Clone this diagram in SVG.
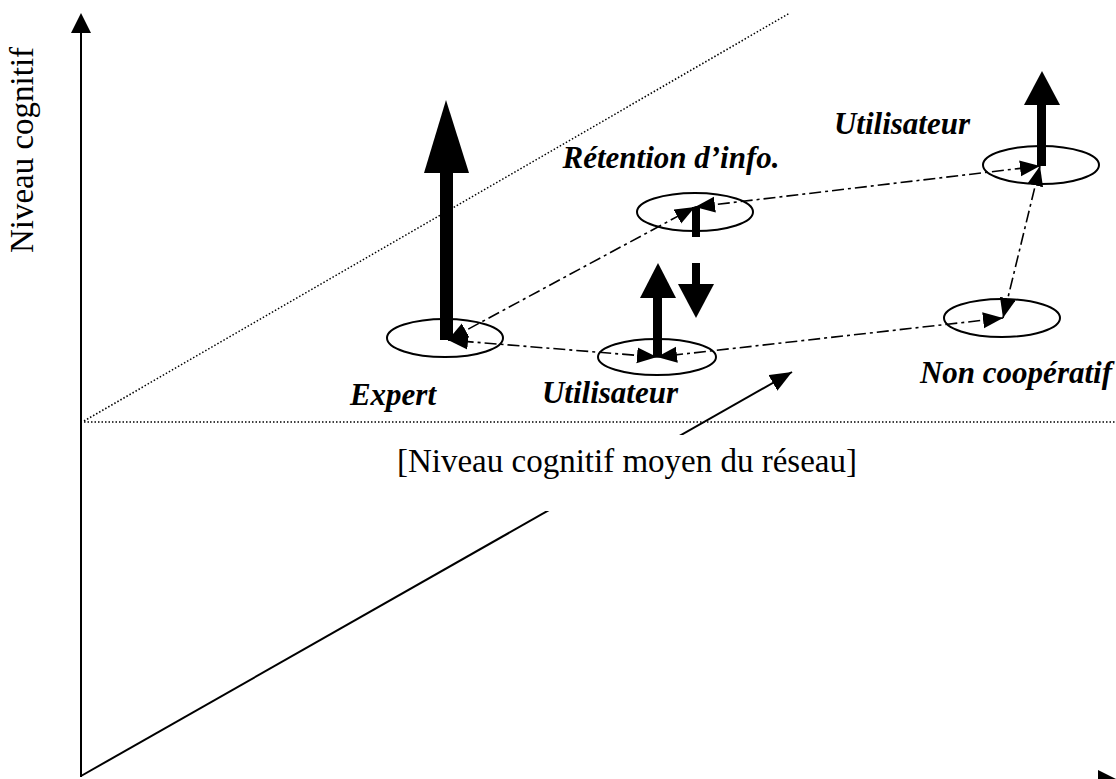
<svg xmlns="http://www.w3.org/2000/svg" width="1116" height="779" viewBox="0 0 1116 779">
<style>
.axis{stroke:#000;stroke-width:2;fill:none}
.dot{stroke:#000;stroke-width:1.5;stroke-dasharray:1.5,2;fill:none}
.dd{stroke:#000;stroke-width:1.6;stroke-dasharray:12,4,3,4;fill:none;marker-start:url(#ah);marker-end:url(#ah)}
.ell{fill:none;stroke:#000;stroke-width:2}
.big{fill:#000}
.lab{font-family:"Liberation Serif","Times New Roman",serif;font-size:31px;font-weight:bold;font-style:italic;fill:#000}
.txt{font-family:"Liberation Serif","Times New Roman",serif;font-size:33px;fill:#000}
</style>
<defs>
<marker id="ah" markerUnits="userSpaceOnUse" markerWidth="22" markerHeight="18" refX="20" refY="8" orient="auto-start-reverse"><path d="M0,0 L20,8 L0,16 z" fill="#000"/></marker>
<marker id="ax" markerUnits="userSpaceOnUse" markerWidth="24" markerHeight="20" refX="22" refY="9" orient="auto"><path d="M0,0 L22,9 L0,18 z" fill="#000"/></marker>
</defs>
<rect width="1116" height="779" fill="#fff"/>
<g id="axes">
<line class="axis" x1="81" y1="777" x2="81" y2="30"/>
<polygon points="71,33 81,13 91,33" fill="#000"/>
<line class="axis" x1="81" y1="780" x2="1100" y2="780"/>
<polygon points="1098,770 1118,780 1098,790" fill="#000"/>
<line class="axis" x1="81" y1="776" x2="792" y2="372" marker-end="url(#ax)"/>
<line class="dot" x1="84" y1="422" x2="1116" y2="422"/>
<line class="dot" x1="84" y1="421" x2="790" y2="13"/>
<text class="txt" transform="translate(33,150) rotate(-90)" text-anchor="middle">Niveau cognitif</text>
</g>
<g id="mean-label">
<rect x="360" y="435" width="505" height="76" fill="#fff"/>
<text class="txt" x="627" y="472" text-anchor="middle">[Niveau cognitif moyen du réseau]</text>
</g>
<g id="connectors">
<line class="dd" x1="657" y1="357" x2="448" y2="340"/>
<line class="dd" x1="448" y1="340" x2="695" y2="207"/>
<line class="dd" x1="695" y1="207" x2="1040" y2="166"/>
<line class="dd" x1="1040" y1="166" x2="1003" y2="318"/>
<line class="dd" x1="1003" y1="318" x2="657" y2="357"/>
</g>
<g id="expert">
<ellipse class="ell" cx="445" cy="338" rx="58" ry="19"/>
<rect class="big" x="440" y="170" width="13" height="170"/>
<polygon class="big" points="424,173 446,100 469,173"/>
<text class="lab" x="393" y="405" text-anchor="middle">Expert</text>
</g>
<g id="utilisateur-bas">
<ellipse class="ell" cx="657" cy="357" rx="59" ry="18"/>
<rect class="big" x="653" y="296" width="9" height="61"/>
<polygon class="big" points="640,298 658,263 676,298"/>
<text class="lab" x="610" y="403" text-anchor="middle">Utilisateur</text>
</g>
<g id="retention">
<ellipse class="ell" cx="695" cy="212" rx="58" ry="19"/>
<rect class="big" x="692" y="207" width="8" height="30"/>
<rect class="big" x="692" y="263" width="8" height="23"/>
<polygon class="big" points="678,284 696,318 714,284"/>
<text class="lab" x="671" y="168" text-anchor="middle">Rétention d’info.</text>
</g>
<g id="utilisateur-haut">
<ellipse class="ell" cx="1041" cy="165" rx="58" ry="19"/>
<rect class="big" x="1037" y="103" width="9" height="63"/>
<polygon class="big" points="1024,105 1042,71 1060,105"/>
<text class="lab" x="902" y="134" text-anchor="middle">Utilisateur</text>
</g>
<g id="non-cooperatif">
<ellipse class="ell" cx="1002" cy="318" rx="58" ry="19"/>
<text class="lab" x="1112" y="383" text-anchor="end">Non coopératif</text>
</g>
</svg>
